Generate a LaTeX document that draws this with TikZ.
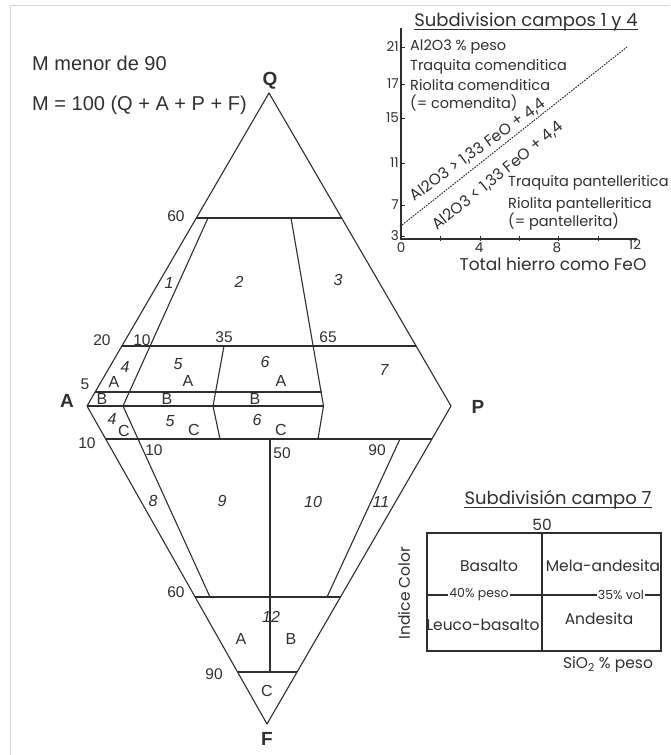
\documentclass[tikz,border=0pt]{standalone}
\usepackage{fontspec}
\setmainfont{Liberation Sans}
\newfontfamily\geo{Poppins}
\definecolor{lc}{HTML}{2E2E2E}
\definecolor{tc}{HTML}{303030}
\definecolor{framec}{HTML}{D4D4D4}
\begin{document}
\begin{tikzpicture}[x=1pt,y=-1pt,
  ln/.style={draw=lc,line width=1.1pt,line join=round},
  num/.style={font=\fontsize{15.5}{16}\selectfont,text=tc,inner sep=0pt},
  fld/.style={font=\fontsize{16}{16}\selectfont\itshape,text=tc,inner sep=0pt},
  lett/.style={font=\fontsize{16}{16}\selectfont,text=tc,inner sep=0pt},
  vtx/.style={font=\fontsize{19}{19}\selectfont\bfseries,text=tc,inner sep=0pt},
  hdr/.style={font=\fontsize{20}{20}\selectfont,text=tc,inner sep=0pt,anchor=west},
  gt/.style={font=\geo\fontsize{14.5}{15}\selectfont,text=tc,inner sep=0pt},
  gtl/.style={gt,anchor=west},
  gtk/.style={font=\geo\fontsize{13.5}{14}\selectfont,text=tc,inner sep=0pt},
  gtr/.style={font=\geo\fontsize{15.5}{16}\selectfont,text=tc,inner sep=0pt},
  gbx/.style={font=\geo\fontsize{15.5}{16}\selectfont,text=tc,inner sep=0pt},
  gax/.style={font=\geo\fontsize{17}{18}\selectfont,text=tc,inner sep=0pt},
  gtitle/.style={font=\geo\fontsize{18}{19}\selectfont,text=tc,inner sep=0pt},
  gsm/.style={font=\geo\fontsize{12.5}{13}\selectfont,text=tc,inner sep=1pt},
  axl/.style={draw=lc,line width=1.4pt},
]
\useasboundingbox (0,0) rectangle (670,755);
\fill[white] (0,0) rectangle (670,755);
\draw[framec,line width=1pt] (10,755) -- (10,5) -- (670,5);

% ---------- header ----------
\node[hdr] (h1) at (32,63) {M menor de 90};
\node[hdr] (h2) at (32,105) {M = 100 (Q + A + P + F)};

% ---------- main diamond coordinates ----------
\coordinate (Q) at (269,93);
\coordinate (A) at (87,406);
\coordinate (P) at (451,406);
\coordinate (F) at (267,724);
\coordinate (q60l) at (196.3,218);
\coordinate (q60r) at (341.7,218);
\coordinate (q20l) at (121.9,346);
\coordinate (q20r) at (416.1,346);
\coordinate (q5l) at (95.1,392);
\coordinate (q5r) at (321.5,392);
\coordinate (f10l) at (105.7,439);
\coordinate (f10r) at (431.9,439);
\coordinate (f60l) at (195.1,597);
\coordinate (f60r) at (340.5,597);
\coordinate (f90l) at (237.6,672);
\coordinate (f90r) at (297,672);
\coordinate (t10) at (208,218);
\coordinate (b10) at (123,406);
\coordinate (d10) at (210,597);
\coordinate (t35) at (224,346);
\coordinate (b35) at (213,406);
\coordinate (d35) at (220,439);
\coordinate (t65) at (291,218);
\coordinate (b65) at (323.5,406);
\coordinate (d65) at (318,439);
\coordinate (t50) at (270,439);
\coordinate (d50) at (270,672);
\coordinate (t90) at (400,439);
\coordinate (d90) at (327,597);

% outline
\draw[ln] (A) -- (Q) -- (P) -- (F) -- cycle;
% horizontal lines
\draw[ln] (q60l) -- (q60r);
\draw[ln] (q20l) -- (q20r);
\draw[ln] (q5l) -- (q5r);
\draw[ln] (A) -- (b65);
\draw[ln] (f10l) -- (f10r);
\draw[ln] (f60l) -- (f60r);
\draw[ln] (f90l) -- (f90r);
% oblique lines
\draw[ln] (t10) -- (b10) -- (d10);
\draw[ln] (t35) -- (b35) -- (d35);
\draw[ln] (t65) -- (b65) -- (d65);
\draw[ln] (t50) -- (d50);
\draw[ln] (t90) -- (d90);

% vertex labels
\node[vtx] (lQ) at (270,81) {Q};
\node[vtx] (lA) at (67,401) {A};
\node[vtx] (lP) at (478,407) {P};
\node[vtx] (lF) at (267,739) {F};

% numeric labels
\node[num] (n60a) at (176,216) {60};
\node[num] (n20) at (102,340) {20};
\node[num] (n10a) at (142,340) {10};
\node[num] (n35) at (224,337) {35};
\node[num] (n65) at (328,337) {65};
\node[num] (n5) at (85,384) {5};
\node[num] (n10b) at (87,443) {10};
\node[num] (n10c) at (154,450) {10};
\node[num] (n50) at (282,453) {50};
\node[num] (n90a) at (377,450) {90};
\node[num] (n60b) at (176,592) {60};
\node[num] (n90b) at (214,674) {90};

% field labels
\node[fld] (f1) at (169,283) {1};
\node[fld] (f2) at (239,282) {2};
\node[fld] (f3) at (338,280) {3};
\node[fld] (f4a) at (125,367) {4};
\node[lett] (f4A) at (114,382) {A};
\node[lett] (f4B) at (102,399) {B};
\node[fld] (f4c) at (112,419) {4};
\node[lett] (f4C) at (124,431) {C};
\node[fld] (f5a) at (178,364) {5};
\node[lett] (f5A) at (188,381) {A};
\node[lett] (f5B) at (167,399) {B};
\node[fld] (f5c) at (170,421) {5};
\node[lett] (f5C) at (194,430) {C};
\node[fld] (f6a) at (265,362) {6};
\node[lett] (f6A) at (281,381) {A};
\node[lett] (f6B) at (255,399) {B};
\node[fld] (f6c) at (257,420) {6};
\node[lett] (f6C) at (281,430) {C};
\node[fld] (f7) at (384,370) {7};
\node[fld] (f8) at (153,501) {8};
\node[fld] (f9) at (222,501) {9};
\node[fld] (f10) at (313,502) {10};
\node[fld] (f11) at (381,502) {11};
\node[fld] (f12) at (271,617) {12};
\node[lett] (f12A) at (241,639) {A};
\node[lett] (f12B) at (291,639) {B};
\node[lett] (f12C) at (267,691) {C};

% ---------- inset: Subdivision campos 1 y 4 ----------
\node[gtitle] (ti1) at (526,22) {Subdivision campos 1 y 4};
\draw[lc,line width=0.8pt] ([yshift=2pt]ti1.south west) -- ([yshift=2pt]ti1.south east);
\coordinate (o) at (401,239);
\coordinate (ytop) at (401,28);
\coordinate (xend) at (637,239);
\draw[axl] (ytop) -- (o) -- (xend);
\foreach \yy/\lab in {47/21,84/17,118/15,163/11,205/7,236/3}{
  \draw[lc,line width=0.8pt] (401,\yy) -- (405,\yy);
  \node[gtk,anchor=east] at (399,\yy) {\lab};
}
\foreach \xx in {440,480,519,558,598}{
  \draw[lc,line width=0.8pt] (\xx,236) -- (\xx,241);
}
\node[gtk] (x0) at (401,248) {0};
\node[gtk] (x4) at (479,248) {4};
\node[gtk] (x8) at (557,248) {8};
\node[gtk] (x12) at (635,245) {12};
\node[gax] (xlab) at (553,264) {Total hierro como FeO};
\node[gtl] (t1a) at (410,47) {Al2O3 \% peso};
\node[gtl] (t1b) at (410,67) {Traquita comenditica};
\node[gtl] (t1c) at (410,85) {Riolita comenditica};
\node[gtl] (t1d) at (410,103) {(= comendita)};
\coordinate (ds) at (402,225);
\coordinate (de) at (627,47);
\draw[lc,line width=1pt,dash pattern=on 1.6pt off 1.2pt] (ds) -- (de);
\node[gtr,rotate=36] (r1) at (478,150) {Al2O3 > 1,33 FeO + 4,4};
\node[gtr,rotate=39] (r2) at (498,176) {Al2O3 < 1,33 FeO + 4,4};
\node[gtl] (t1e) at (508,183) {Traquita pantelleritica};
\node[gtl] (t1f) at (508,205) {Riolita pantelleritica};
\node[gtl] (t1g) at (508,222) {(= pantellerita)};

% ---------- inset: Subdivision campo 7 ----------
\node[gtitle] (ti2) at (558,500) {Subdivisión campo 7};
\draw[lc,line width=0.8pt] ([yshift=2pt]ti2.south west) -- ([yshift=2pt]ti2.south east);
\node[gbx] (c50) at (542,525) {50};
\draw[lc,line width=1.1pt] (427,533) rectangle (661,651);
\draw[lc,line width=1.1pt] (542,533) -- (542,651);
\node[gsm] (p40) at (479,595) {40\% peso};
\node[gsm] (v35) at (621,595) {35\% vol};
\draw[lc,line width=1.1pt] (427,595) -- (p40.west);
\draw[lc,line width=1.1pt] (p40.east) -- (v35.west);
\draw[lc,line width=1.1pt] (v35.east) -- (661,595);
\node[gbx] (bas) at (489,566) {Basalto};
\node[gbx] (mel) at (603,566) {Mela-andesita};
\node[gbx] (leu) at (483,625) {Leuco-basalto};
\node[gbx] (and) at (599,619) {Andesita};
\node[gbx] (sio) at (608,665) {SiO\textsubscript{2} \% peso};
\node[gbx,rotate=90] (ic) at (404,593) {Indice Color};
\end{tikzpicture}
\end{document}
